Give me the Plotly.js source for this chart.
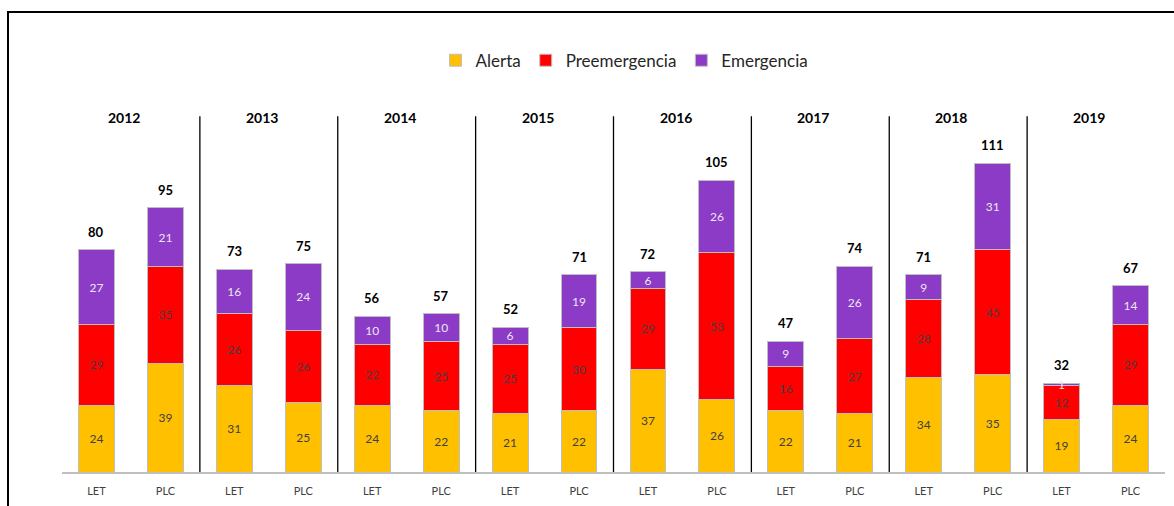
<!DOCTYPE html>
<html>
<head>
<meta charset="utf-8">
<script src="https://cdn.plot.ly/plotly-3.0.1.min.js"></script>
<style>
  body { margin: 0; background: #fff; }
  #frame { position: absolute; left: 7px; top: 11px; width: 1167px; height: 495px;
           border-top: 2px solid #000; border-left: 2px solid #000; box-sizing: border-box; }
  #chart { position: absolute; left: 0; top: 0; width: 1174px; height: 506px; }
</style>
</head>
<body>
<div id="frame"></div>
<div id="chart"></div>
<script>
// data
var years = ['2012', '2013', '2014', '2015', '2016', '2017', '2018', '2019'];
var groups = ['LET', 'PLC'];
var alerta = [24, 39, 31, 25, 24, 22, 21, 22, 37, 26, 22, 21, 34, 35, 19, 24];
var preemergencia = [29, 35, 26, 26, 22, 25, 25, 30, 29, 53, 16, 27, 28, 45, 12, 29];
var emergencia = [27, 21, 16, 24, 10, 10, 6, 19, 6, 26, 9, 26, 9, 31, 1, 14];

var xs = [], labels = [];
years.forEach(function (y) {
  groups.forEach(function (g) { xs.push(xs.length); labels.push(g); });
});
var totals = alerta.map(function (v, i) { return v + preemergencia[i] + emergencia[i]; });

var font = 'Lato, "Open Sans", "Liberation Sans", sans-serif';
function series(name, vals, color, txtColor) {
  return {
    type: 'bar', name: name, x: xs, y: vals,
    text: vals.map(String), textposition: 'inside', insidetextanchor: 'middle',
    textangle: 0, constraintext: 'none',
    textfont: { family: font, size: 12, color: txtColor },
    marker: { color: color, line: { color: '#BFBFBF', width: 1 } },
    hoverinfo: 'x+y+name'
  };
}
var data = [
  series('Alerta', alerta, '#FFC000', '#404040'),
  series('Preemergencia', preemergencia, '#FF0000', '#404040'),
  series('Emergencia', emergencia, '#8B3BC5', '#EDE6F3')
];

var annotations = totals.map(function (t, i) {
  return { x: i, y: t, text: '<b>' + t + '</b>', showarrow: false, yanchor: 'bottom', yshift: 8,
           font: { family: font, size: 13, color: '#000' } };
});
years.forEach(function (y, k) {
  annotations.push({ x: 2 * k + 0.4, y: 127.5, text: '<b>' + y + '</b>', showarrow: false,
                     font: { family: font, size: 14, color: '#000' } });
});

// separators between years
var shapes = [];
for (var k = 1; k < years.length; k++) {
  shapes.push({ type: 'line', xref: 'x', yref: 'y', x0: 2 * k - 0.5, x1: 2 * k - 0.5, y0: 0, y1: 128,
                line: { color: '#000', width: 1.3 } });
}

var layout = {
  width: 1174, height: 506,
  margin: { l: 62, r: 9, t: 20, b: 34 },
  paper_bgcolor: 'rgba(0,0,0,0)', plot_bgcolor: 'rgba(0,0,0,0)',
  barmode: 'stack', bargap: 0.48,
  showlegend: true,
  legend: { orientation: 'h', x: 0.51, xanchor: 'center', y: 0.91, yanchor: 'middle',
            font: { family: font, size: 17, color: '#262626' }, itemwidth: 30, traceorder: 'normal' },
  xaxis: { tickvals: xs, ticktext: labels, range: [-0.5, 15.5], showgrid: false, zeroline: false,
           showline: true, linecolor: '#BFBFBF', linewidth: 2, ticks: '', ticklabelstandoff: 8,
           tickfont: { family: font, size: 11, color: '#404040' } },
  yaxis: { range: [0, 162.6], visible: false, showgrid: false, zeroline: false },
  annotations: annotations,
  shapes: shapes,
  font: { family: font }
};

Plotly.newPlot('chart', data, layout, { displayModeBar: false, staticPlot: true });
</script>
</body>
</html>
